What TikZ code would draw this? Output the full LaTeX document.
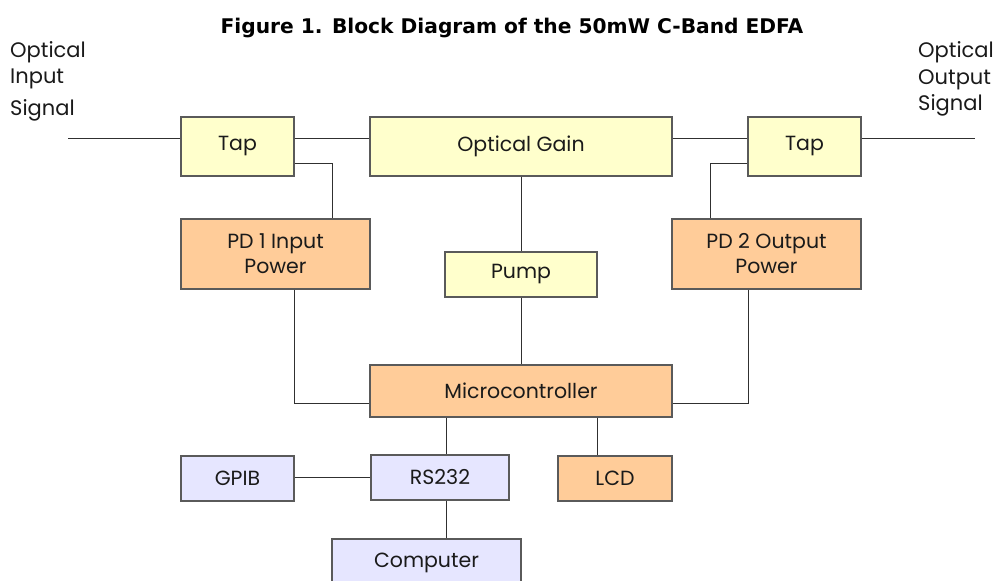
\documentclass[tikz,border=0pt]{standalone}
\usepackage{fontspec}
\setmainfont{Poppins}
\newfontfamily\titlefont{DejaVu Sans}
\definecolor{ybox}{HTML}{FFFFCC}
\definecolor{obox}{HTML}{FFCC99}
\definecolor{lbox}{HTML}{E6E6FF}
\definecolor{edge}{HTML}{5A5A5A}
\definecolor{wire}{HTML}{303030}
\definecolor{txt}{HTML}{1A1A1A}
\begin{document}
\begin{tikzpicture}[x=1pt,y=-1pt,
  blk/.style={draw=edge, line width=1.1pt, inner sep=0pt, text=txt, align=center,
    font=\fontsize{20.5}{25}\selectfont},
  yb/.style={blk, fill=ybox},
  ob/.style={blk, fill=obox},
  lb/.style={blk, fill=lbox},
  wr/.style={draw=wire, line width=0.9pt},
  lbl/.style={anchor=base west, inner sep=0pt, text=txt, font=\fontsize{21}{25}\selectfont}]
\useasboundingbox (0,0) rectangle (1005,581);
\clip (0,0) rectangle (1005,581);
% title
\node[font=\titlefont\bfseries\fontsize{20.2}{24}\selectfont, text=black, anchor=base, inner sep=0pt] (title) at (512,33) {Figure 1. Block Diagram of the 50mW C-Band EDFA};
% side labels
\node[lbl] (inl1) at (10,57) {Optical};
\node[lbl] (inl2) at (10,83) {Input};
\node[lbl] (inl3) at (10,115) {Signal};
\node[lbl] (outl1) at (918,57) {Optical};
\node[lbl] (outl2) at (918,84) {Output};
\node[lbl] (outl3) at (918,110) {Signal};
% blocks
\node[yb, minimum width=113pt, minimum height=59pt] (tap1) at (237.5,146.5) {Tap};
\node[yb, minimum width=302pt, minimum height=59pt] (gain) at (521,146.5) {Optical Gain};
\node[yb, minimum width=113pt, minimum height=59pt] (tap2) at (804.5,146.5) {Tap};
\node[ob, minimum width=189pt, minimum height=70pt] (pd1) at (275.5,254) {PD 1 Input\\Power};
\node[ob, minimum width=189pt, minimum height=70pt] (pd2) at (766.5,254) {PD 2 Output\\Power};
\node[yb, minimum width=152pt, minimum height=45pt] (pump) at (521,274.5) {Pump};
\node[ob, minimum width=302pt, minimum height=52pt] (micro) at (521,391) {Microcontroller};
\node[lb, minimum width=113pt, minimum height=45pt] (gpib) at (237.5,478.5) {GPIB};
\node[lb, minimum width=138pt, minimum height=45pt] (rs) at (440,477.5) {RS232};
\node[ob, minimum width=114pt, minimum height=45pt] (lcd) at (615,478.5) {LCD};
\node[lb, minimum width=189pt, minimum height=48pt] (comp) at (426.5,563) {Computer};
% helper coordinates
\coordinate (in) at (68,138);
\coordinate (out) at (975,138);
\coordinate (b1) at (332,163);
\coordinate (b2) at (710,163);
\coordinate (c1) at (294,403);
\coordinate (c2) at (748,403);
\coordinate (c3) at (446,0);
\coordinate (c4) at (0,477);
\coordinate (c5) at (597,0);
% connectors
\draw[wr] (in) -- (in -| tap1.west);
\draw[wr] (tap1.east |- in) -- (gain.west |- in);
\draw[wr] (gain.east |- in) -- (tap2.west |- in);
\draw[wr] (tap2.east |- out) -- (out);
\draw[wr] (tap1.east |- b1) -| (pd1.north -| b1);
\draw[wr] (tap2.west |- b2) -| (pd2.north -| b2);
\draw[wr] (gain.south) -- (pump.north);
\draw[wr] (pump.south) -- (micro.north);
\draw[wr] (pd1.south -| c1) |- (micro.west |- c1);
\draw[wr] (pd2.south -| c2) |- (micro.east |- c2);
\draw[wr] (micro.south -| c3) -- (rs.north -| c3);
\draw[wr] (gpib.east |- c4) -- (rs.west |- c4);
\draw[wr] (micro.south -| c5) -- (lcd.north -| c5);
\draw[wr] (rs.south -| c3) -- (comp.north -| c3);
\end{tikzpicture}
\end{document}
